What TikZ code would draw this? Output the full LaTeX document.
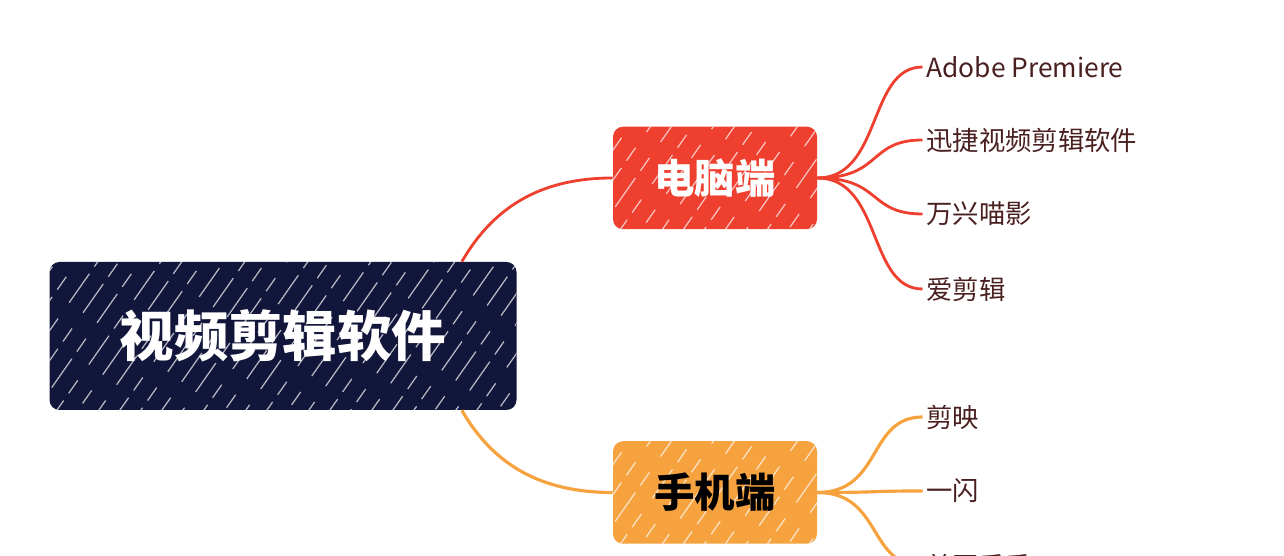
\documentclass[tikz,border=0pt]{standalone}
\usepackage{fontspec}
\newfontfamily\cjk{Noto Sans CJK SC}
\usetikzlibrary{calc, positioning}
\definecolor{mapnavy}{HTML}{12163A}
\definecolor{mapred}{HTML}{EE3F2F}
\definecolor{maporange}{HTML}{F5A23F}
\definecolor{leaftext}{HTML}{4A1F1F}

\tikzset{
  hatch/.style={path picture={
      \foreach \k [evaluate=\k as \ph using {mod(\k*7,23)}] in {0,...,32}
        \draw[white, line width=0.7pt, opacity=0.7,
              dash pattern=on 20pt off 5pt on 9pt off 11pt, dash phase=\ph pt]
          ([xshift=-3cm+\k*0.42cm, yshift=-0.3cm]path picture bounding box.south west)
          -- ++(55:6);
  }},
  rootbox/.style={fill=mapnavy, rounded corners=0.2cm, minimum width=9.34cm,
    minimum height=2.96cm, text=white, font=\cjk\bfseries\fontsize{31}{36}\selectfont, hatch},
  branchbox/.style={rounded corners=0.2cm, minimum width=4.08cm, minimum height=2.05cm,
    font=\cjk\bfseries\fontsize{23}{28}\selectfont, hatch},
  leaf/.style={anchor=west, inner xsep=2pt, text=leaftext, font=\cjk\fontsize{15}{18}\selectfont},
  redline/.style={draw=mapred, line width=1.6pt},
  orangeline/.style={draw=maporange, line width=1.8pt},
}

\begin{document}
\begin{tikzpicture}
  \path[use as bounding box, clip] (0,0) rectangle (25.68,11.12);

  % main boxes
  \node[rootbox] (root) at (5.66,4.40) {视频剪辑软件};
  \node[branchbox, fill=mapred, text=white] (pc) at (14.30,7.56) {电脑端};
  \node[branchbox, fill=maporange, text=black] (mobile) at (14.30,1.27) {手机端};

  % desktop apps
  \node[leaf] (premiere) at (18.45,9.78) {Adobe Premiere};
  \node[leaf] (xunjie) at (18.45,8.32) {迅捷视频剪辑软件};
  \node[leaf] (wanxing) at (18.45,6.84) {万兴喵影};
  \node[leaf] (aijianji) at (18.45,5.34) {爱剪辑};

  % phone apps
  \node[leaf] (jianying) at (18.45,2.78) {剪映};
  \node[leaf] (yishan) at (18.45,1.30) {一闪};
  \node[leaf] (meitu) at (18.45,-0.20) {美图秀秀};

  % root to branches
  \draw[redline] ([xshift=-1.1cm]root.north east) to[out=60,in=180] (pc.west);
  \draw[orangeline] ([xshift=-1.1cm]root.south east) to[out=-60,in=180] (mobile.west);

  % branches to leaves
  \foreach \leafname in {premiere, xunjie, wanxing, aijianji}
    \draw[redline] (pc.east) .. controls +(1.3,0) and +(-1.1,0) .. (\leafname.west);
  \foreach \leafname in {jianying, yishan, meitu}
    \draw[orangeline] (mobile.east) .. controls +(1.3,0) and +(-1.1,0) .. (\leafname.west);
\end{tikzpicture}
\end{document}
